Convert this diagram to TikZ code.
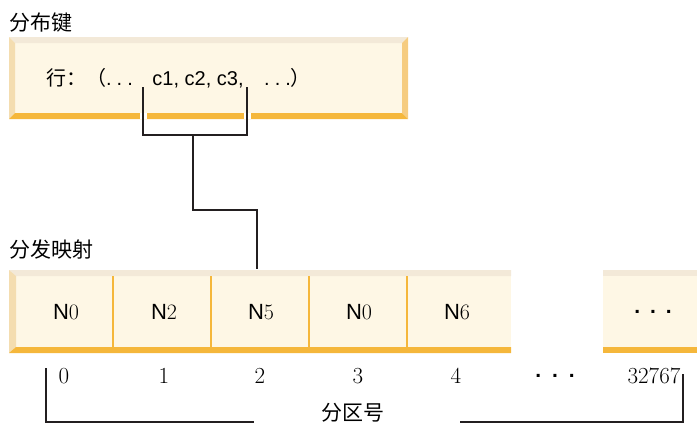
\documentclass[tikz,border=0pt]{standalone}
\usepackage{fontspec}
\setsansfont{Liberation Sans}
\newfontfamily\cjk{Noto Sans CJK SC}
\usetikzlibrary{positioning}
\definecolor{cream}{HTML}{FEF7E5}
\definecolor{rimtop}{HTML}{F3E9D8}
\definecolor{rimleft}{HTML}{F4DDB0}
\definecolor{rimright}{HTML}{F6CC80}
\definecolor{rimbot}{HTML}{F5B73B}
\definecolor{ink}{HTML}{231F20}
\newcommand{\rdots}{.\hspace{5pt}.\hspace{5pt}.}
\tikzset{
  wire/.style={draw=ink,line width=2pt},
  gap/.style={draw=white,line width=7pt},
  title/.style={anchor=base west,font=\cjk\fontsize{21}{24}\selectfont},
  rowtxt/.style={font=\fontsize{20}{24}\selectfont\sffamily},
  cell/.style={anchor=base,font=\fontsize{22}{24}\selectfont},
  num/.style={anchor=base,font=\fontsize{23}{24}\selectfont},
}

\begin{document}
\begin{tikzpicture}[x=1pt,y=-1pt]
	\tikzstyle{every node}+=[inner sep=0pt]
	\useasboundingbox (0,0) rectangle (697,432);
	% distribution key box
	\fill [cream] (9,37) rectangle (408,119);
	\fill [rimtop] (9,37) -- (408,37) -- (402,43) -- (15,43) -- cycle;
	\fill [rimleft] (9,37) -- (15,43) -- (15,113) -- (9,119) -- cycle;
	\fill [rimright] (408,37) -- (402,43) -- (402,113) -- (408,119) -- cycle;
	\fill [rimbot] (9,119) -- (15,113) -- (402,113) -- (408,119) -- cycle;
	\node [title] (keyttl) at (9,30) {分布键};
	\node [rowtxt,anchor=base west] (rowa) at (46,85) {{\cjk 行：（}\rdots};
	\node [rowtxt,anchor=base] (rowb) at (198,85) {c1, c2, c3,};
	\node [rowtxt,anchor=base west] (rowc) at (264,85) {\rdots{\cjk ）}};
	% distribution map row
	\fill [cream] (9,270) rectangle (511,353);
	\fill [rimtop] (9,270) -- (511,270) -- (511,276) -- (16,276) -- cycle;
	\fill [rimleft] (9,270) -- (16,276) -- (16,347) -- (9,353) -- cycle;
	\fill [rimbot] (9,353) -- (16,347) -- (511,347) -- (511,353) -- cycle;
	\draw [rimbot,line width=1.6pt] (113,276) -- (113,347);
	\draw [rimbot,line width=1.6pt] (211,276) -- (211,347);
	\draw [rimbot,line width=1.6pt] (309,276) -- (309,347);
	\draw [rimbot,line width=1.6pt] (407,276) -- (407,347);
	\fill [cream] (603,270) rectangle (697,353);
	\fill [rimtop] (603,270) rectangle (697,276);
	\fill [rimbot] (603,347) rectangle (697,353);
	\node [title] (mapttl) at (9,257) {分发映射};
	\node [cell] (c0) at (66,319) {{\sffamily N}0};
	\node [cell] (c1) at (164,319) {{\sffamily N}2};
	\node [cell] (c2) at (261,319) {{\sffamily N}5};
	\node [cell] (c3) at (359,319) {{\sffamily N}0};
	\node [cell] (c4) at (457,319) {{\sffamily N}6};
	\node [cell,font=\fontsize{21}{24}\selectfont\sffamily\bfseries] (cx) at (653,313) {.\hspace{10pt}.\hspace{10pt}.};
	% partition numbers
	\node [num] (p0) at (64,383) {0};
	\node [num] (p1) at (164,383) {1};
	\node [num] (p2) at (260,383) {2};
	\node [num] (p3) at (358,383) {3};
	\node [num] (p4) at (456,383) {4};
	\node [num,font=\fontsize{21}{24}\selectfont\sffamily\bfseries] (px) at (555,377) {.\hspace{11pt}.\hspace{11pt}.};
	\node [num] (plast) at (654,383) {32767};
	\node [title,anchor=base] (pttl) at (353,420) {分区号};
	% key bracket to map
	\coordinate (kl) at (143,87);
	\coordinate (kr) at (247,87);
	\coordinate (kj) at (193,135);
	\coordinate (kb) at (193,210);
	\coordinate (mtop) at (257,269);
	\draw [gap] (143,113) -- (143,119);
	\draw [gap] (247,113) -- (247,119);
	\draw [wire] (kl) |- (kj) -| (kr);
	\draw [wire] (kj) -- (kb) -| (mtop);
	% partition bracket
	\coordinate (pl) at (46,368);
	\coordinate (pla) at (254,422);
	\coordinate (pra) at (460,422);
	\coordinate (pr) at (683,374);
	\draw [wire] (pl) |- (pla);
	\draw [wire] (pra) -| (pr);
\end{tikzpicture}
\end{document}
